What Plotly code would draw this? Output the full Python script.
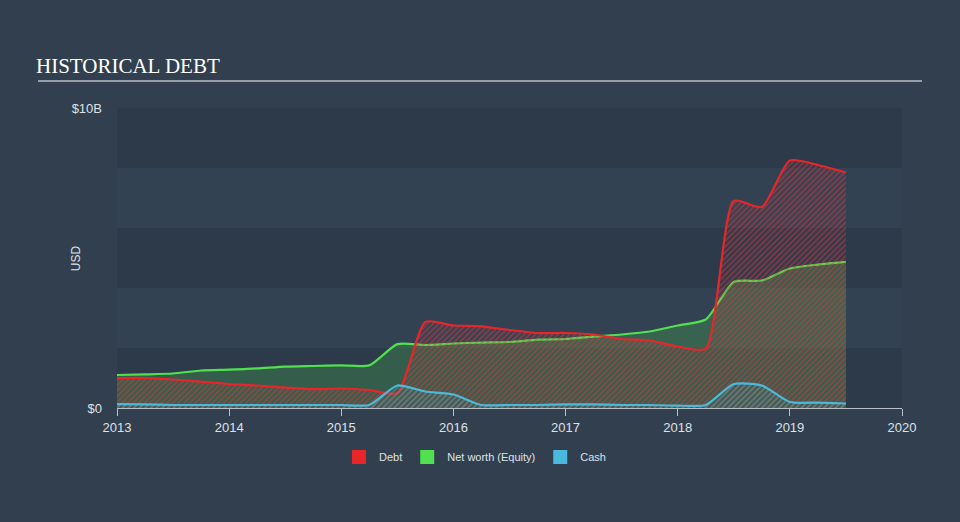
import plotly.graph_objects as go

dates = [2013.0, 2013.25, 2013.5, 2013.75, 2014.0, 2014.25, 2014.5, 2014.75,
         2015.0, 2015.25, 2015.5, 2015.75, 2016.0, 2016.25, 2016.5, 2016.75,
         2017.0, 2017.25, 2017.5, 2017.75, 2018.0, 2018.25, 2018.5, 2018.75,
         2019.0, 2019.25, 2019.5]
debt = [1.0, 1.0, 0.95, 0.88, 0.8, 0.75, 0.68, 0.63,
        0.65, 0.6, 0.5, 2.87, 2.75, 2.72, 2.6, 2.5,
        2.5, 2.45, 2.3, 2.25, 2.05, 1.98, 6.9, 6.7,
        8.25, 8.1, 7.85]
equity = [1.1, 1.12, 1.15, 1.25, 1.28, 1.32, 1.38, 1.4,
          1.42, 1.42, 2.13, 2.1, 2.15, 2.18, 2.2, 2.28,
          2.3, 2.38, 2.45, 2.55, 2.75, 2.95, 4.2, 4.25,
          4.65, 4.78, 4.87]
cash = [0.13, 0.12, 0.1, 0.1, 0.1, 0.1, 0.1, 0.1,
        0.1, 0.1, 0.75, 0.55, 0.45, 0.1, 0.1, 0.1,
        0.12, 0.12, 0.1, 0.1, 0.08, 0.1, 0.8, 0.75,
        0.2, 0.18, 0.15]
years = [2013, 2014, 2015, 2016, 2017, 2018, 2019, 2020]

RED = "#e8262a"
GREEN = "#50e050"
BLUE = "#4bb9dc"
BG = "#323f4f"

fig = go.Figure()
fig.add_trace(go.Scatter(x=dates, y=equity, mode="lines", line=dict(color=GREEN, width=2.2, shape="spline", smoothing=0.6),
                         fill="tozeroy", fillcolor="rgba(70,160,80,0.35)", showlegend=False, hoverinfo="skip"))
fig.add_trace(go.Scatter(x=dates, y=debt, mode="lines", line=dict(color=RED, width=2.2, shape="spline", smoothing=0.6),
                         fill="tozeroy", fillcolor="rgba(0,0,0,0)",
                         fillpattern=dict(shape="/", fgcolor="rgba(225,55,60,0.88)", bgcolor="rgba(0,0,0,0)", size=4, solidity=0.5),
                         showlegend=False, hoverinfo="skip"))
fig.add_trace(go.Scatter(x=dates, y=cash, mode="lines", line=dict(color=BLUE, width=2.2, shape="spline", smoothing=0.6),
                         fill="tozeroy", fillcolor="rgba(0,0,0,0)",
                         fillpattern=dict(shape="/", fgcolor="rgba(75,185,220,0.7)", bgcolor="rgba(0,0,0,0)", size=4, solidity=0.5),
                         showlegend=False, hoverinfo="skip"))
for name, col in [("Debt", RED), ("Net worth (Equity)", GREEN), ("Cash", BLUE)]:
    fig.add_trace(go.Scatter(x=[None], y=[None], mode="markers", name=name,
                             marker=dict(symbol="square", size=14, color=col)))

shapes = []
for i, (y0, y1) in enumerate([(0, 2), (2, 4), (4, 6), (6, 8), (8, 10)]):
    shapes.append(dict(type="rect", xref="paper", yref="y", x0=0, x1=1, y0=y0, y1=y1,
                       fillcolor="#2c3a4a" if i % 2 == 0 else "#334252", line=dict(width=0), layer="below"))
shapes.append(dict(type="line", xref="paper", yref="paper", x0=-0.1006, x1=1.0255, y0=1.09, y1=1.09,
                   line=dict(color="#b9bfc6", width=1.5)))
fig.update_layout(
    width=960, height=522,
    paper_bgcolor=BG, plot_bgcolor=BG,
    margin=dict(l=117, r=58, t=108, b=114),
    shapes=shapes,
    font=dict(family="Liberation Sans, Arial", color="#dde2e6", size=11),
    xaxis=dict(range=[2013, 2020], tickvals=years, ticktext=[str(y) for y in years], showgrid=False,
               zeroline=False, showline=True, linecolor="#b9bfc6", linewidth=1, ticks="outside",
               ticklen=7, tickcolor="#b9bfc6", tickfont=dict(size=13, color="#dde2e6")),
    yaxis=dict(range=[0, 10], tickvals=[0, 10], ticktext=["$0", "$10B"], showgrid=False, zeroline=False,
               showline=False, tickfont=dict(size=13, color="#dde2e6"), ticklabelstandoff=14),
    legend=dict(orientation="h", x=0.456, xanchor="center", y=-0.115, yanchor="top",
                font=dict(size=11, color="#dde2e6"), bgcolor="rgba(0,0,0,0)", itemwidth=30),
    annotations=[dict(text="HISTORICAL DEBT", xref="paper", yref="paper", x=-0.106, y=1.092,
                      xanchor="left", yanchor="bottom", showarrow=False,
                      font=dict(family="Liberation Serif, Times New Roman", size=21, color="#ffffff")),
                 dict(text="USD", xref="paper", yref="paper", x=-0.052, y=0.5, textangle=-90,
                      xanchor="center", yanchor="middle", showarrow=False,
                      font=dict(size=12, color="#dde2e6"))],
)
fig.write_html("out.html")
